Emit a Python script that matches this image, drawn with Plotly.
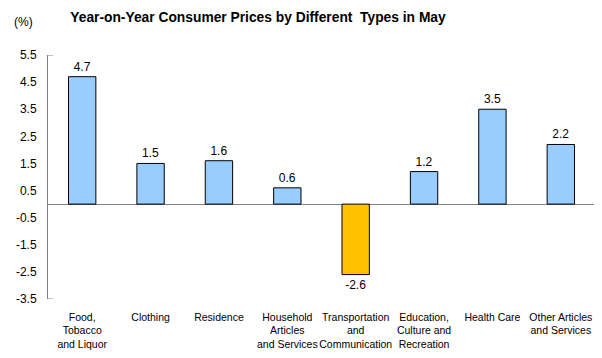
import plotly.graph_objects as go

categories = [
    "Food,<br>Tobacco<br>and Liquor",
    "Clothing",
    "Residence",
    "Household<br>Articles<br>and Services",
    "Transportation<br>and<br>Communication",
    "Education,<br>Culture and<br>Recreation",
    "Health Care",
    "Other Articles<br>and Services",
]
values = [4.7, 1.5, 1.6, 0.6, -2.6, 1.2, 3.5, 2.2]
tick_vals = [5.5, 4.5, 3.5, 2.5, 1.5, 0.5, -0.5, -1.5, -2.5, -3.5]
tick_text = ["5.5", "4.5", "3.5", "2.5", "1.5", "0.5", "-0.5", "-1.5", "-2.5", "-3.5"]
y_range = [-3.5, 5.5]

colors = ["#FFC000" if v < 0 else "#99CCFF" for v in values]

# page body has a default 8px margin, so the figure is offset by 8px
W, H = 594, 350
L, R, T, B = 40, 7, 47, 59
PW, PH = W - L - R, H - T - B

fig = go.Figure(go.Bar(
    x=categories,
    y=values,
    marker=dict(color=colors, line=dict(color="#000000", width=1)),
    width=0.4,
    text=[f"{v:.1f}" for v in values],
    textposition="outside",
    textfont=dict(family="Liberation Sans, Arial", size=12, color="#000000"),
    cliponaxis=False,
))

# small inside tick marks at the two ends of the value axis
for yv in y_range:
    fig.add_shape(type="line", xref="x domain", yref="y",
                  x0=0, x1=5 / PW, y0=yv, y1=yv,
                  line=dict(color="#808080", width=1))

fig.update_layout(
    width=W, height=H,
    margin=dict(l=L, r=R, t=T, b=B, autoexpand=False),
    paper_bgcolor="white", plot_bgcolor="white",
    font=dict(family="Liberation Sans, Arial", color="#000000"),
    showlegend=False,
    title=dict(
        text="<b>Year-on-Year Consumer Prices by Different  Types in May</b>",
        x=250 / W, xanchor="center", y=1 - 9 / H, yanchor="middle",
        font=dict(size=13.8, family="Liberation Sans, Arial", color="#000000"),
    ),
    annotations=[dict(
        text="(%)", xref="paper", yref="paper", showarrow=False,
        x=(15 - L) / PW, y=1 + (T - 14) / PH,
        xanchor="center", yanchor="middle",
        font=dict(size=12),
    )],
)

fig.update_yaxes(
    range=y_range,
    tickvals=tick_vals, ticktext=tick_text,
    tickfont=dict(size=12),
    showgrid=False,
    showline=True, linecolor="#808080", linewidth=1,
    zeroline=True, zerolinecolor="#808080", zerolinewidth=1,
    ticks="", ticklabelstandoff=8, automargin=False,
)
fig.update_xaxes(
    showline=False, showgrid=False, ticks="",
    tickfont=dict(size=10.5),
    tickangle=0,
    ticklabelstandoff=10, automargin=False,
)

fig.write_html("out.html")
